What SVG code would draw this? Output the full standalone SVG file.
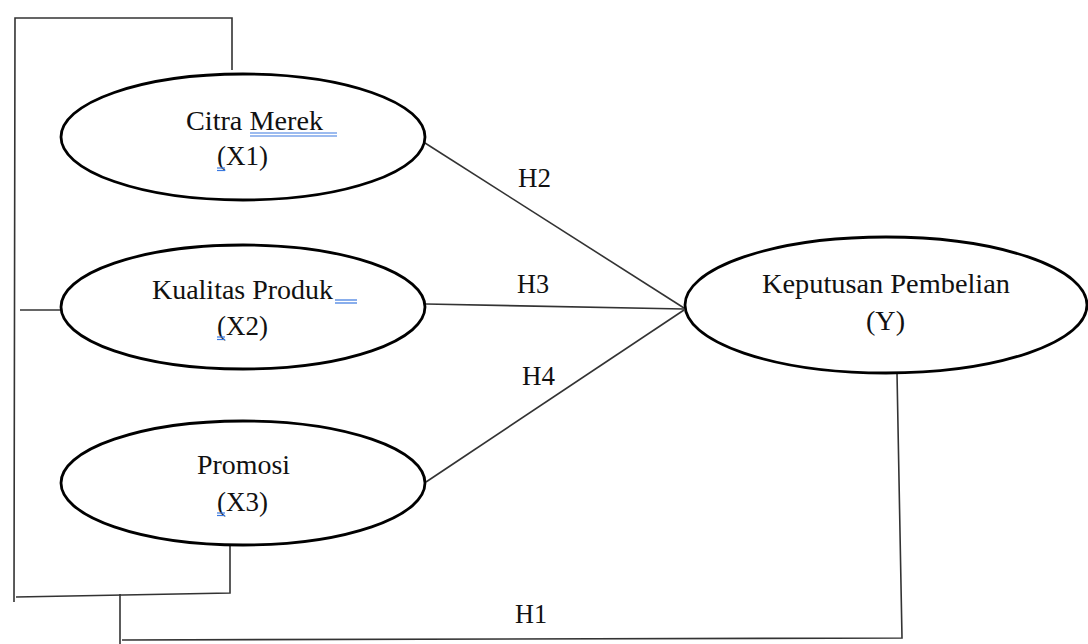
<svg xmlns="http://www.w3.org/2000/svg" width="1088" height="644" viewBox="0 0 1088 644">
<style>
.node{fill:#fff;stroke:#000;stroke-width:2.8}
.lbl{font-family:"Liberation Serif","Times New Roman",serif;font-size:27px;fill:#111}
.conn{fill:none;stroke:#333;stroke-width:1.6}
.spell{stroke:#3b78e0;stroke-width:1.2;fill:none}
</style>
<rect width="1088" height="644" fill="#fff"/>
<g id="connectors">
<polyline class="conn" points="232,70 232,18 15,18 14,602"/>
<line class="conn" x1="20" y1="310" x2="62" y2="310"/>
<polyline class="conn" points="230,545 230,593 16,597"/>
<polyline class="conn" points="120,594 120,644"/>
<polyline class="conn" points="897,373 902,638 122,640"/>
<line class="conn" x1="425" y1="143" x2="684" y2="308"/>
<line class="conn" x1="426" y1="304" x2="684" y2="309"/>
<line class="conn" x1="426" y1="482" x2="684" y2="310"/>
<text class="lbl" x="518" y="187" textLength="33" lengthAdjust="spacingAndGlyphs">H2</text>
<text class="lbl" x="517" y="293" textLength="32" lengthAdjust="spacingAndGlyphs">H3</text>
<text class="lbl" x="522" y="385" textLength="33" lengthAdjust="spacingAndGlyphs">H4</text>
<text class="lbl" x="515" y="623" textLength="32" lengthAdjust="spacingAndGlyphs">H1</text>
</g>
<g id="x1">
<ellipse class="node" cx="243" cy="137" rx="182" ry="63"/>
<text class="lbl" x="186" y="130" textLength="137" lengthAdjust="spacingAndGlyphs">Citra Merek</text>
<text class="lbl" x="217" y="165" textLength="51" lengthAdjust="spacingAndGlyphs">(X1)</text>
<line class="spell" x1="250" y1="133" x2="337" y2="133"/>
<line class="spell" x1="250" y1="136" x2="337" y2="136"/>
<line class="spell" x1="217" y1="168" x2="225" y2="168"/>
<line class="spell" x1="217" y1="170.5" x2="225" y2="170.5"/>
</g>
<g id="x2">
<ellipse class="node" cx="243" cy="307" rx="182" ry="62"/>
<text class="lbl" x="152" y="299" textLength="181" lengthAdjust="spacingAndGlyphs">Kualitas Produk</text>
<text class="lbl" x="217" y="335" textLength="51" lengthAdjust="spacingAndGlyphs">(X2)</text>
<line class="spell" x1="335" y1="300" x2="357" y2="300"/>
<line class="spell" x1="335" y1="303" x2="357" y2="303"/>
<line class="spell" x1="217" y1="337" x2="225" y2="337"/>
<line class="spell" x1="217" y1="339.5" x2="225" y2="339.5"/>
</g>
<g id="x3">
<ellipse class="node" cx="243" cy="483" rx="182" ry="62"/>
<text class="lbl" x="197" y="474" textLength="93" lengthAdjust="spacingAndGlyphs">Promosi</text>
<text class="lbl" x="217" y="511" textLength="51" lengthAdjust="spacingAndGlyphs">(X3)</text>
<line class="spell" x1="217" y1="513" x2="225" y2="513"/>
<line class="spell" x1="217" y1="515.5" x2="225" y2="515.5"/>
</g>
<g id="y">
<ellipse class="node" cx="886" cy="305" rx="201" ry="68"/>
<text class="lbl" x="762" y="293" textLength="248" lengthAdjust="spacingAndGlyphs">Keputusan Pembelian</text>
<text class="lbl" x="866" y="330" textLength="39" lengthAdjust="spacingAndGlyphs">(Y)</text>
</g>
</svg>
